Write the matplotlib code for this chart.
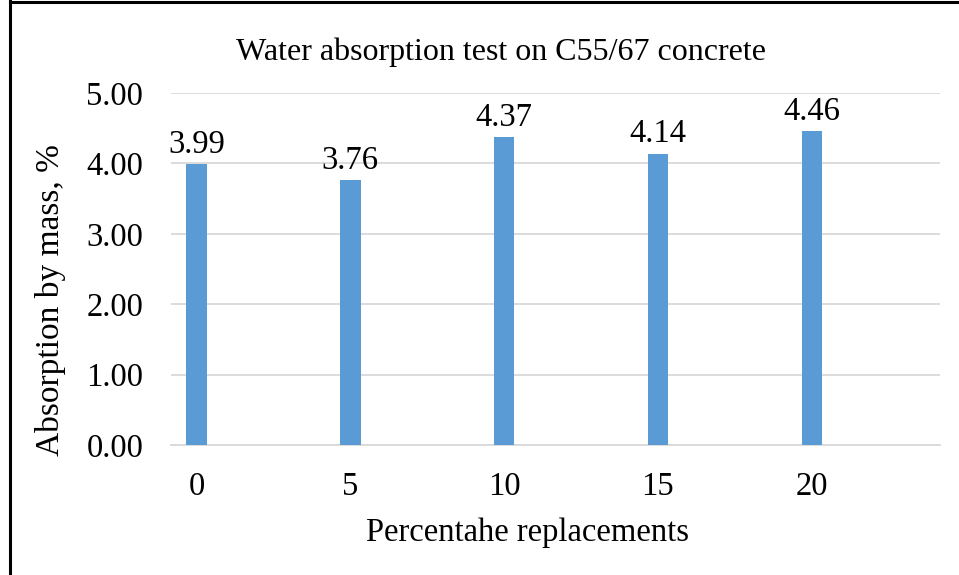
import numpy as np
import matplotlib.pyplot as plt
from matplotlib.lines import Line2D

plt.rcParams['font.family'] = ['Liberation Serif', 'DejaVu Serif']

replacements = ['0', '5', '10', '15', '20']
absorption = [3.99, 3.76, 4.37, 4.14, 4.46]
value_labels = ['3.99', '3.76', '4.37', '4.14', '4.46']

fig = plt.figure(figsize=(9.59, 5.75), dpi=100)
ax = fig.add_axes([171 / 959, 1 - 445 / 575, 769 / 959, 352 / 575])

x = np.arange(len(replacements))
bars = ax.bar(x, absorption, width=0.133, color='#5b9bd5', zorder=3)

for b, txt in zip(bars, value_labels):
    ax.annotate(txt, (b.get_x() + b.get_width() / 2, b.get_height()),
                xytext=(0, 3), textcoords='offset points',
                ha='center', va='bottom', fontsize=23.5)

ax.set_xlim(-0.166, 4.834)
ax.set_ylim(0, 5)
ax.set_yticks(np.arange(0, 5.01, 1))
ax.set_yticklabels([f'{v:.2f}' for v in np.arange(0, 5.01, 1)])
ax.set_xticks(x)
ax.set_xticklabels(replacements)
ax.tick_params(axis='both', length=0, labelsize=23.5)
ax.tick_params(axis='y', pad=20)
ax.tick_params(axis='x', pad=19)

ax.grid(axis='y', color='#d9d9d9', linewidth=1.3, zorder=0)
for side in ['top', 'right', 'left']:
    ax.spines[side].set_visible(False)
ax.spines['bottom'].set_color('#d9d9d9')
ax.spines['bottom'].set_linewidth(1.3)

fig.text(501 / 959, 1 - 52 / 575, 'Water absorption test on C55/67 concrete',
         ha='center', va='center', fontsize=23)
fig.text(527 / 959, 1 - 533 / 575, 'Percentahe replacements',
         ha='center', va='center', fontsize=23.5)
fig.text(50 / 959, 1 - 300 / 575, 'Absorption by mass, %',
         ha='center', va='center', rotation=90, fontsize=24)

# frame lines on the left and top edges
fig.add_artist(Line2D([9.5 / 959, 9.5 / 959], [0, 1], color='black', linewidth=2.2,
                      transform=fig.transFigure))
fig.add_artist(Line2D([9.5 / 959, 1], [1 - 1.5 / 575, 1 - 1.5 / 575], color='black',
                      linewidth=2.2, transform=fig.transFigure))

fig.savefig('out.png', dpi=100)
